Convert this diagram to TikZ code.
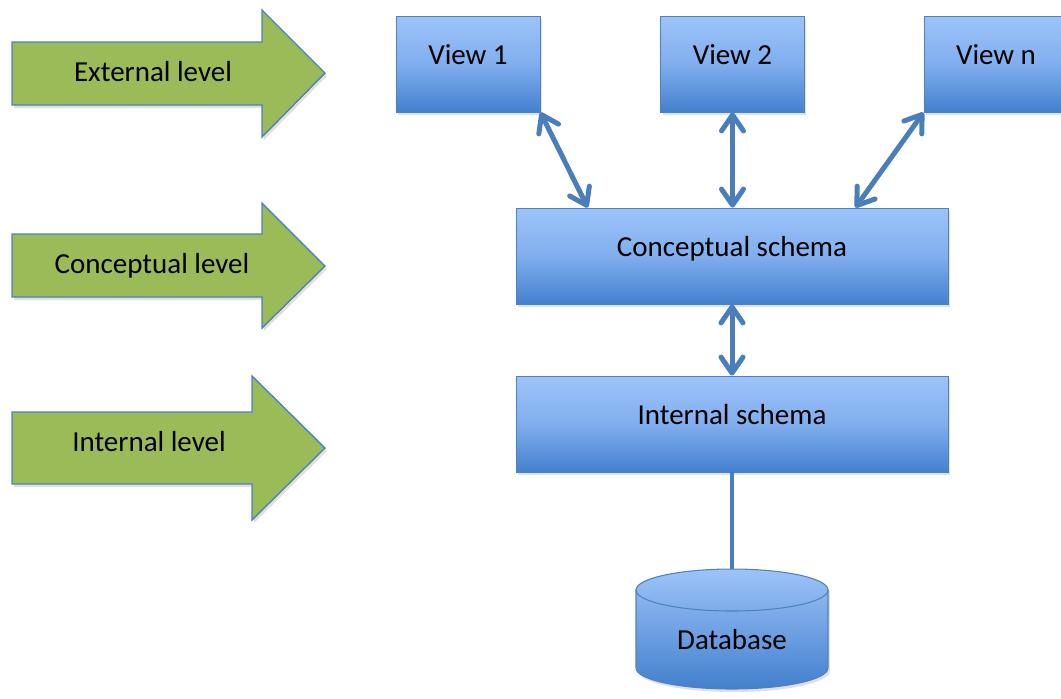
\documentclass[tikz,border=0pt]{standalone}
\usepackage{fontspec}
\setmainfont{Carlito}
\usetikzlibrary{arrows.meta,calc,shadows}

\definecolor{lvlgreen}{HTML}{9BBB59}
\definecolor{edgeblue}{HTML}{4F81BD}
\definecolor{boxtop}{HTML}{9DC3F9}
\definecolor{boxmid}{HTML}{80AEEE}
\definecolor{boxbot}{HTML}{4380CD}
\definecolor{linkblue}{HTML}{4A7EBB}

\tikzset{
    soft/.style={drop shadow={shadow xshift=0.04cm, shadow yshift=-0.06cm, opacity=0.2, fill=black!60}},
    schema/.style={rectangle, draw=edgeblue, line width=0.5pt, top color=boxtop, bottom color=boxbot, middle color=boxmid, soft, text height=0.7em, text depth=0.7em, font=\fontsize{16.5}{20}\selectfont},
    lvl/.style={draw=edgeblue, line width=0.8pt, fill=lvlgreen, soft},
    lvltext/.style={anchor=base, font=\fontsize{16.5}{20}\selectfont},
    link/.style={draw=linkblue, line width=0.1cm, >={Straight Barb[length=0.32cm, width=0.44cm, round]}, <->},
}

\begin{document}
\begin{tikzpicture}[x=0.02cm, y=-0.02cm]
    \clip (0,0) rectangle (1061,698);

    % levels on the left
    \draw[lvl] (12,42) -- (262,42) -- (262,10) -- (325,73) -- (262,137) -- (262,105) -- (12,105) -- cycle;
    \draw[lvl] (12,234) -- (262,234) -- (262,203) -- (325,266) -- (262,328) -- (262,297) -- (12,297) -- cycle;
    \draw[lvl] (12,412) -- (252,412) -- (252,376) -- (325,448) -- (252,520) -- (252,484) -- (12,484) -- cycle;
    \node (ext) at (153,81) [lvltext] {External level};
    \node (con) at (152,273) [lvltext] {Conceptual level};
    \node (int) at (149,451) [lvltext] {Internal level};

    % views
    \node (v1) at (468,64) [schema, minimum width=2.88cm, minimum height=1.92cm] {View 1};
    \node (v2) at (732.5,64) [schema, minimum width=2.88cm, minimum height=1.92cm] {View 2};
    \node (vn) at (996,64) [schema, minimum width=2.88cm, minimum height=1.92cm] {View n};

    % schemas
    \node (cs) at (732,256) [schema, minimum width=8.64cm, minimum height=1.92cm] {Conceptual schema};
    \node (is) at (732,424) [schema, minimum width=8.64cm, minimum height=1.92cm] {Internal schema};

    % database
    \coordinate (dbtop) at (732,569);
    \draw[draw=linkblue, line width=0.09cm] (is.south) -- (dbtop);
    \draw[draw=edgeblue, line width=0.6pt, top color=boxtop, bottom color=boxbot, soft]
        (636,590) -- (636,668) arc[start angle=180, end angle=360, x radius=1.92cm, y radius=0.42cm]
        -- (828,590) arc[start angle=0, end angle=180, x radius=1.92cm, y radius=0.42cm] -- cycle;
    \draw[draw=edgeblue, line width=0.6pt] (636,590) arc[start angle=180, end angle=360, x radius=1.92cm, y radius=0.42cm];
    \node (db) at (732,649) [lvltext] {Database};

    \draw[link] (v1.south east) -- ($(cs.north west)!1/6!(cs.north east)$);
    \draw[link] (v2.south) -- (v2.south |- cs.north);
    \draw[link] (vn.south west) -- ($(cs.north west)!0.785!(cs.north east)$);
    \draw[link] (cs.south) -- (is.north);
\end{tikzpicture}
\end{document}
